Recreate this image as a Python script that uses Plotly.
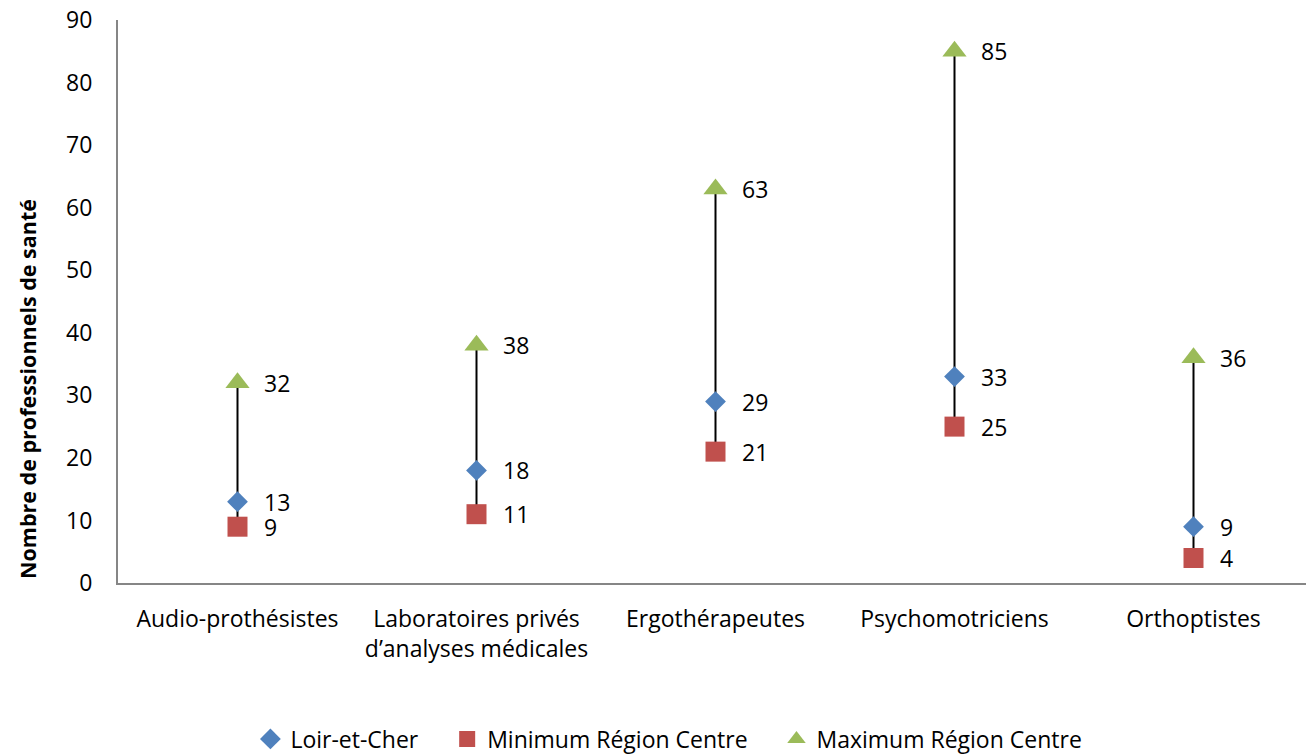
import plotly.graph_objects as go

categories = ["Audio-prothésistes", "Laboratoires privés<br>d’analyses médicales",
              "Ergothérapeutes", "Psychomotriciens", "Orthoptistes"]
loir_et_cher = [13, 18, 29, 33, 9]
minimum = [9, 11, 21, 25, 4]
maximum = [32, 38, 63, 85, 36]
series_names = ["Loir-et-Cher", "Minimum Région Centre", "Maximum Région Centre"]

FONT = "Open Sans"
FS = 23
xs = list(range(len(categories)))
PAD = "\u00a0" * 4

fig = go.Figure()

# high-low lines
lx, ly = [], []
for i in xs:
    lx += [i, i, None]
    ly += [minimum[i], maximum[i], None]
fig.add_trace(go.Scatter(x=lx, y=ly, mode="lines", line=dict(color="black", width=2),
                         showlegend=False, hoverinfo="skip"))

styles = [("diamond", "#4F81BD", 16), ("square", "#C0504D", 20), ("triangle-up", "#9BBB59", 21)]
annotations = []
for k, (name, vals, (sym, col, sz)) in enumerate(zip(series_names, [loir_et_cher, minimum, maximum], styles)):
    fig.add_trace(go.Scatter(
        x=xs, y=vals, mode="markers", name=name + (PAD if k < 2 else ""),
        marker=dict(symbol=sym, color=col, size=sz, line=dict(width=0)),
        cliponaxis=False,
    ))
    for i, v in zip(xs, vals):
        annotations.append(dict(x=i, y=v, xref="x", yref="y", text=str(v), showarrow=False,
                                xanchor="left", yanchor="middle", xshift=24,
                                font=dict(family=FONT, size=FS, color="black")))

annotations.append(dict(text="<b>Nombre de professionnels de santé</b>", textangle=-90,
                        xref="paper", yref="paper", x=(20 - 110) / 1195, y=0.3446,
                        xanchor="center", yanchor="middle", showarrow=False,
                        font=dict(family=FONT, size=21.5, color="black")))

fig.update_layout(
    width=1306, height=760,
    margin=dict(l=110, r=1, t=12, b=185, autoexpand=False),
    paper_bgcolor="white", plot_bgcolor="white",
    font=dict(family=FONT, size=FS, color="black"),
    showlegend=True,
    legend=dict(orientation="h", x=0.461, xanchor="center", y=-0.2771,
                yanchor="middle", font=dict(family=FONT, size=FS), itemsizing="trace",
                traceorder="normal", itemwidth=30, tracegroupgap=0),
    xaxis=dict(range=[-0.5, 4.5], tickmode="array", tickvals=xs, ticktext=categories,
               showgrid=False, zeroline=False, showline=True, linecolor="#868686",
               linewidth=2, ticks="", ticklabelstandoff=14, automargin=False,
               tickfont=dict(family=FONT, size=FS)),
    yaxis=dict(range=[0, 90], tickmode="array", tickvals=list(range(0, 91, 10)),
               showgrid=False, zeroline=False, showline=True, linecolor="#868686",
               linewidth=2, ticks="", ticklabelstandoff=19, ticklabeloverflow="allow",
               automargin=False, tickfont=dict(family=FONT, size=FS)),
    annotations=annotations,
)

fig.write_html("out.html")
